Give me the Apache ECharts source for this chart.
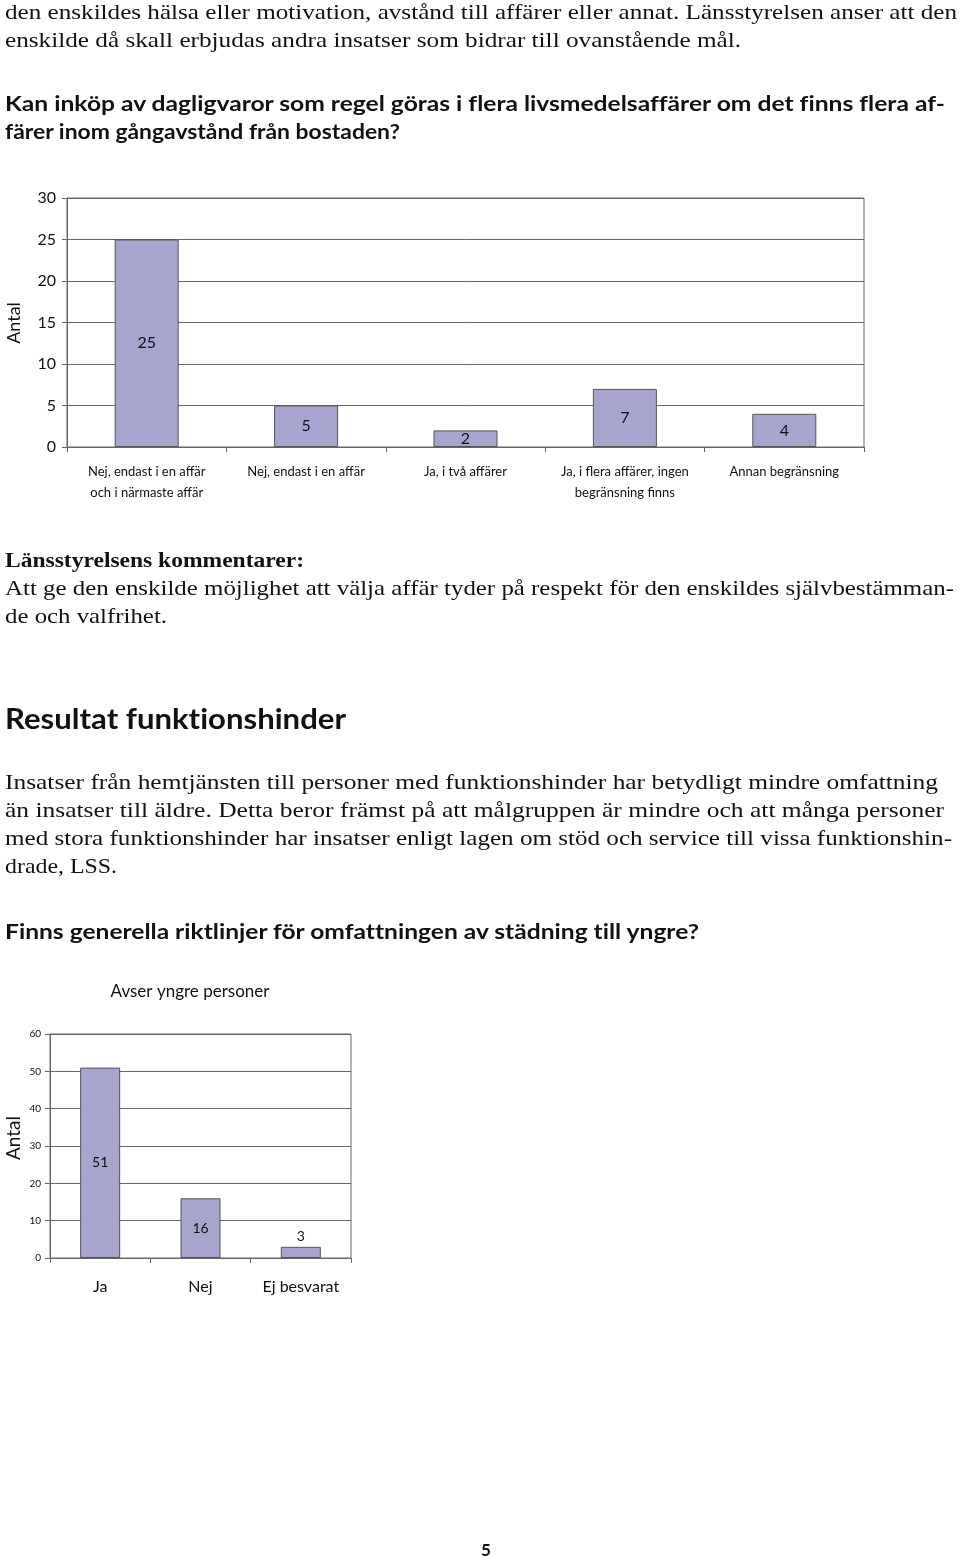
<!DOCTYPE html>
<html>
<head>
<meta charset="utf-8">
<script src="https://cdn.jsdelivr.net/npm/echarts@6/dist/echarts.min.js"></script>
<style>
  html, body { margin: 0; padding: 0; background: #fff; }
  #page { position: relative; width: 960px; height: 1556px; overflow: hidden; }
  #chart { position: absolute; left: 0; top: 0; width: 960px; height: 1556px; }
  .ln { position: absolute; left: 5px; white-space: nowrap; height: 28px; line-height: 28px;
        transform-origin: left center; color: #111; font-variant-ligatures: none; }
  .serif { font-family: "Liberation Serif", "DejaVu Serif", serif; font-size: 22px; }
  .sans { font-family: Lato, "Open Sans", sans-serif; font-weight: bold; font-size: 21px; }
</style>
</head>
<body>
<div id="page">
  <div id="chart"></div>
</div>
<script>
// ---- Data ----
const chart1Categories = ["Nej, endast i en affär\noch i närmaste affär", "Nej, endast i en affär", "Ja, i två affärer", "Ja, i flera affärer, ingen\nbegränsning finns", "Annan begränsning"];
const chart1Values = [25, 5, 2, 7, 4];
const chart1Ticks = { min: 0, max: 30, interval: 5 };

const chart2Title = "Avser yngre personer";
const chart2Categories = ["Ja", "Nej", "Ej besvarat"];
const chart2Values = [51, 16, 3];
const chart2Ticks = { min: 0, max: 60, interval: 10 };

const axisName = "Antal";

// ---- Page text lines: [text, class, centerY, rightEdgeX, fontSize] ----
const textLines = [
  ["den enskildes hälsa eller motivation, avstånd till affärer eller annat. Länsstyrelsen anser att den", "serif", 12, 957, 22],
  ["enskilde då skall erbjudas andra insatser som bidrar till ovanstående mål.", "serif", 40, 741, 22],
  ["Kan inköp av dagligvaror som regel göras i flera livsmedelsaffärer om det finns flera af-", "sans", 103, 945, 21],
  ["färer inom gångavstånd från bostaden?", "sans", 131, 400, 21],
  ["Länsstyrelsens kommentarer:", "serif b", 560, 304, 22],
  ["Att ge den enskilde möjlighet att välja affär tyder på respekt för den enskildes självbestämman-", "serif", 588, 954, 22],
  ["de och valfrihet.", "serif", 616, 167, 22],
  ["Resultat funktionshinder", "sans", 718, 346, 28],
  ["Insatser från hemtjänsten till personer med funktionshinder har betydligt mindre omfattning", "serif", 782, 938, 22],
  ["än insatser till äldre. Detta beror främst på att målgruppen är mindre och att många personer", "serif", 810, 944, 22],
  ["med stora funktionshinder har insatser enligt lagen om stöd och service till vissa funktionshin-", "serif", 838, 952, 22],
  ["drade, LSS.", "serif", 866, 117, 22],
  ["Finns generella riktlinjer för omfattningen av städning till yngre?", "sans", 931, 699, 21]
];

const page = document.getElementById('page');
textLines.forEach(([t, cls, cy, right, fs]) => {
  const d = document.createElement('div');
  const parts = cls.split(' ');
  d.className = 'ln ' + parts[0];
  if (parts[1] === 'b') d.style.fontWeight = 'bold';
  d.style.fontSize = fs + 'px';
  d.style.top = (cy - 14) + 'px';
  d.textContent = t;
  page.appendChild(d);
  const w = d.getBoundingClientRect().width;
  const target = right - 5;
  d.style.transform = 'scaleX(' + (target / w) + ')';
});
const pn = document.createElement('div');
pn.className = 'ln sans';
pn.style.fontSize = '17px';
pn.style.left = '481px';
pn.style.top = (1550 - 14) + 'px';
pn.textContent = '5';
page.appendChild(pn);

// ---- Chart ----
const FONT = 'Lato, "Open Sans", sans-serif';
const GRID = '#666';
const BAR = '#a7a5cf';
const chart = echarts.init(document.getElementById('chart'), null, { renderer: 'canvas' });

function yAxisCfg(gridIndex, ticks, fs, margin) {
  return {
    type: 'value', gridIndex, min: ticks.min, max: ticks.max, interval: ticks.interval,
    axisLine: { show: true, lineStyle: { color: GRID, width: 1 } },
    axisTick: { show: true, length: 5, lineStyle: { color: GRID } },
    axisLabel: { fontFamily: FONT, fontSize: fs, color: '#111', margin },
    splitLine: { show: true, lineStyle: { color: GRID, width: 1 } }
  };
}
function xAxisCfg(gridIndex, cats, fs, margin, lh) {
  return {
    type: 'category', gridIndex, data: cats,
    axisLine: { show: true, lineStyle: { color: GRID, width: 1 } },
    axisTick: { show: true, length: 5, alignWithLabel: false, lineStyle: { color: GRID } },
    axisLabel: { fontFamily: FONT, fontSize: fs, color: '#111', margin, lineHeight: lh, interval: 0 }
  };
}

chart.setOption({
  animation: false,
  backgroundColor: 'transparent',
  grid: [
    { left: 67, top: 198, width: 797, height: 249, show: true, borderColor: GRID, borderWidth: 1, containLabel: false },
    { left: 50, top: 1034, width: 301, height: 224, show: true, borderColor: GRID, borderWidth: 1, containLabel: false }
  ],
  xAxis: [
    xAxisCfg(0, chart1Categories, 13, 14, 21),
    xAxisCfg(1, chart2Categories, 16, 19, 20)
  ],
  yAxis: [
    yAxisCfg(0, chart1Ticks, 16, 11),
    yAxisCfg(1, chart2Ticks, 10, 9)
  ],
  graphic: [
    { type: 'text', x: 14, y: 323, rotation: Math.PI / 2,
      style: { text: axisName, font: '18px ' + FONT, fill: '#111', align: 'center', verticalAlign: 'middle' } },
    { type: 'text', x: 14, y: 1138, rotation: Math.PI / 2,
      style: { text: axisName, font: '19px ' + FONT, fill: '#111', align: 'center', verticalAlign: 'middle' } },
    { type: 'text', x: 190, y: 992,
      style: { text: chart2Title, font: '17px ' + FONT, fill: '#111', align: 'center', verticalAlign: 'middle' } }
  ],
  series: [
    {
      type: 'bar', xAxisIndex: 0, yAxisIndex: 0, data: chart1Values, barWidth: 64,
      itemStyle: { color: BAR, borderColor: '#555', borderWidth: 1 },
      label: { show: true, position: 'inside', fontFamily: FONT, fontSize: 16, color: '#111' }
    },
    {
      type: 'bar', xAxisIndex: 1, yAxisIndex: 1, barWidth: 40,
      data: chart2Values.map(v => ({
        value: v,
        label: v < 8 ? { position: 'top', distance: 3 } : { position: 'inside' }
      })),
      itemStyle: { color: BAR, borderColor: '#555', borderWidth: 1 },
      label: { show: true, fontFamily: FONT, fontSize: 14, color: '#111' }
    }
  ]
});
</script>
</body>
</html>
